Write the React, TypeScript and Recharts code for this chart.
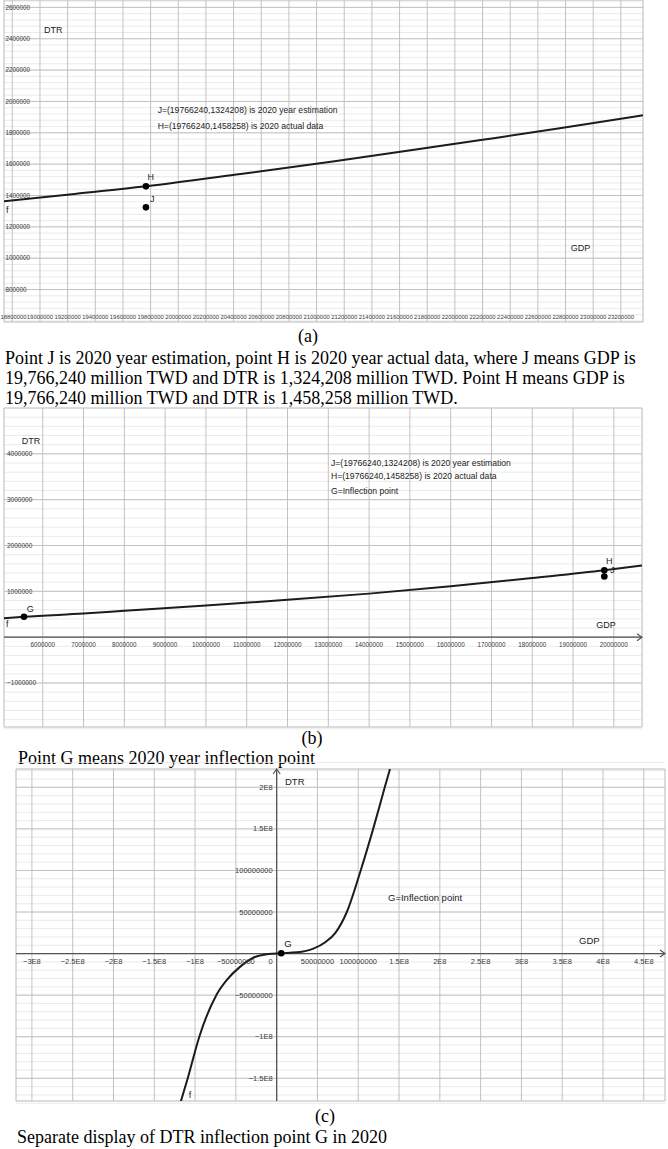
import {
    CartesianGrid,
    ComposedChart,
    Line,
    ReferenceDot,
    ReferenceLine,
    Scatter,
    XAxis,
    YAxis,
} from 'recharts';

// panel (a): close-up around the 2020 values
const aGdp = [18740000, 19250000, 19766240, 20450000, 21130000, 21680000, 22200000, 22770000, 23360000];
const aDtr = [1364000, 1410000, 1458258, 1537000, 1619000, 1688000, 1755000, 1830000, 1912000];
const aXTicks = [
    18800000, 19000000, 19200000, 19400000, 19600000, 19800000, 20000000, 20200000,
    20400000, 20600000, 20800000, 21000000, 21200000, 21400000, 21600000, 21800000,
    22000000, 22200000, 22400000, 22600000, 22800000, 23000000, 23200000,
];
const aYTicks = [800000, 1000000, 1200000, 1400000, 1600000, 1800000, 2000000, 2200000, 2400000, 2600000];

// panel (b): 5M .. 20M GDP
const bGdp = [5050000, 5540000, 7000000, 8000000, 10000000, 12000000, 14000000, 16000000, 18000000, 19766240, 20690000];
const bDtr = [410000, 444000, 515000, 574000, 690000, 814000, 950000, 1110000, 1290000, 1458258, 1563000];
const bXTicks = [
    6000000, 7000000, 8000000, 9000000, 10000000, 11000000, 12000000, 13000000,
    14000000, 15000000, 16000000, 17000000, 18000000, 19000000, 20000000,
];
const bYTicks = [-1000000, 1000000, 2000000, 3000000, 4000000];

// panel (c): whole cubic around the inflection point
const cGdp = [
    -117500000, -109000000, -94800000, -74000000, -61300000, -45000000, -28700000, -10000000, 5540000,
    25000000, 45000000, 60000000, 72000000, 86000000, 103000000, 118300000, 132500000, 138900000,
];
const cDtr = [
    -178000000, -150000000, -100000000, -50000000, -32000000, -16000000, -5000000, -500000, 444000,
    1500000, 6000000, 14000000, 25000000, 50000000, 100000000, 150000000, 200000000, 222000000,
];
const cXTicks = [
    -300000000, -250000000, -200000000, -150000000, -100000000, -50000000, 0, 50000000,
    100000000, 150000000, 200000000, 250000000, 300000000, 350000000, 400000000, 450000000,
];
const cXLabels = [
    '\u22123E8', '\u22122.5E8', '\u22122E8', '\u22121.5E8', '\u22121E8', '\u221250000000', '0', '50000000',
    '100000000', '1.5E8', '2E8', '2.5E8', '3E8', '3.5E8', '4E8', '4.5E8',
];
const cYTicks = [-150000000, -100000000, -50000000, 50000000, 100000000, 150000000, 200000000];
const cYLabels = ['\u22121.5E8', '\u22121E8', '\u221250000000', '50000000', '100000000', '1.5E8', '2E8'];

// marked points
const pointH = { x: 19766240, y: 1458258 };
const pointJ = { x: 19766240, y: 1324208 };
const pointG = { x: 5540000, y: 444000 };

const aXDomain: [number, number] = [18740000, 23360000];
const aYDomain: [number, number] = [593000, 2647000];
const bXDomain: [number, number] = [5050000, 20690000];
const bYDomain: [number, number] = [-1960000, 5000000];
const cXDomain: [number, number] = [-319500000, 476000000];
const cYDomain: [number, number] = [-177300000, 222000000];

const SANS = "Arial, 'Liberation Sans', Helvetica, sans-serif";
const SERIF = "'Times New Roman', 'Liberation Serif', serif";
const MAJOR = '#c2c2c2';
const MINOR = '#e5e5e5';
const AXIS = '#555';
const INK = '#1c1c1c';
const TICK = '#3a3a3a';

// minor grid values (grid only, not data)
function steps(from: number, to: number, step: number) {
    const out: number[] = [];
    for (let v = from; v <= to + 1; v += step) out.push(Math.round(v));
    return out;
}

type Note = {
    x: number;
    y: number;
    text: string;
    dx?: number;
    dy?: number;
    size?: number;
    anchor?: 'start' | 'middle' | 'end';
    fill?: string;
};

// text pinned to a data position
const note = (key: string, n: Note) => (
    <ReferenceDot
        key={key}
        x={n.x}
        y={n.y}
        ifOverflow="visible"
        shape={(p: any) => (
            <text
                x={p.cx + (n.dx ?? 0)}
                y={p.cy + (n.dy ?? 0)}
                fontSize={n.size ?? 9}
                textAnchor={n.anchor ?? 'start'}
                fill={n.fill ?? '#222'}
                fontFamily={SANS}
            >
                {n.text}
            </text>
        )}
    />
);

const arrow = (key: string, x: number, y: number, dir: 'right' | 'up') => (
    <ReferenceDot
        key={key}
        x={x}
        y={y}
        ifOverflow="visible"
        shape={(p: any) => (
            <path
                d={
                    dir === 'right'
                        ? `M${p.cx - 5},${p.cy - 3.5}L${p.cx},${p.cy}L${p.cx - 5},${p.cy + 3.5}`
                        : `M${p.cx - 3.5},${p.cy + 5}L${p.cx},${p.cy}L${p.cx + 3.5},${p.cy + 5}`
                }
                stroke={AXIS}
                strokeWidth={1.2}
                fill="none"
            />
        )}
    />
);

const dotShape = (p: any) => <circle cx={p.cx} cy={p.cy} r={3.3} fill="#000" />;

function axes(xd: [number, number], yd: [number, number], xMajor: number[], yMajor: number[], xMinor: number[], yMinor: number[]) {
    return [
        <XAxis key="xm" xAxisId="m" type="number" domain={xd} ticks={xMinor} interval={0} hide allowDataOverflow />,
        <YAxis key="ym" yAxisId="m" type="number" domain={yd} ticks={yMinor} interval={0} hide allowDataOverflow />,
        <XAxis key="x" type="number" dataKey="x" domain={xd} ticks={xMajor} interval={0} hide allowDataOverflow />,
        <YAxis key="y" type="number" dataKey="y" domain={yd} ticks={yMajor} interval={0} hide allowDataOverflow />,
        <CartesianGrid key="gm" xAxisId="m" yAxisId="m" stroke={MINOR} strokeWidth={0.8} />,
        <CartesianGrid key="gM" stroke={MAJOR} strokeWidth={1} />,
    ];
}

function PanelA() {
    const curve = aGdp.map((x, i) => ({ x, y: aDtr[i] }));
    return (
        <ComposedChart width={668} height={330} margin={{ top: 0, right: 25, bottom: 8, left: 4 }}>
            {axes(aXDomain, aYDomain, aXTicks, aYTicks, steps(18720000, 23360000, 40000), steps(600000, 2640000, 40000))}
            <Line data={curve} dataKey="y" type="monotone" stroke={INK} strokeWidth={2} dot={false} isAnimationActive={false} />
            <Scatter data={[pointH, pointJ]} dataKey="y" shape={dotShape} isAnimationActive={false} />
            {aYTicks.map((v) => note(`ay${v}`, { x: aXDomain[0], y: v, text: String(v), dx: 1.5, dy: 2.2, size: 6.3, fill: TICK }))}
            {aXTicks.map((v, i) =>
                note(`ax${v}`, {
                    x: v,
                    y: aYDomain[0],
                    text: String(v),
                    dx: i === 0 ? 1.2 : 0,
                    dy: -2.8,
                    size: 5.9,
                    anchor: 'middle',
                    fill: TICK,
                }),
            )}
            {note('dtr', { x: 19030000, y: 2437000, text: 'DTR', size: 9 })}
            {note('gdp', { x: 22837000, y: 1043000, text: 'GDP', size: 9 })}
            {note('t1', { x: 19851000, y: 1926000, text: 'J=(19766240,1324208) is 2020 year estimation', size: 8.6 })}
            {note('t2', { x: 19851000, y: 1821000, text: 'H=(19766240,1458258) is 2020 actual data', size: 8.6 })}
            {note('f', { x: 18754000, y: 1291000, text: 'f', size: 9 })}
            {note('H', { x: pointH.x, y: pointH.y, text: 'H', dx: 1.5, dy: -6, size: 9 })}
            {note('J', { x: pointJ.x, y: pointJ.y, text: 'J', dx: 4, dy: -5, size: 9 })}
        </ComposedChart>
    );
}

function PanelB() {
    const curve = bGdp.map((x, i) => ({ x, y: bDtr[i] }));
    return (
        <ComposedChart width={668} height={330} margin={{ top: 8, right: 26, bottom: 3, left: 4 }}>
            {axes(bXDomain, bYDomain, bXTicks, [-1000000, 0, 1000000, 2000000, 3000000, 4000000, 5000000], steps(5000000, 20800000, 200000), steps(-2000000, 5000000, 200000))}
            <ReferenceLine y={0} stroke={AXIS} strokeWidth={1.2} />
            {arrow('ar', bXDomain[1], 0, 'right')}
            <Line data={curve} dataKey="y" type="monotone" stroke={INK} strokeWidth={2} dot={false} isAnimationActive={false} />
            <Scatter data={[pointG, pointH, pointJ]} dataKey="y" shape={dotShape} isAnimationActive={false} />
            {bYTicks.map((v) => note(`by${v}`, { x: bXDomain[0], y: v, text: v < 0 ? `\u2212${-v}` : String(v), dx: 3, dy: 2.3, size: 6.5, fill: TICK }))}
            {bXTicks.map((v) => note(`bx${v}`, { x: v, y: 0, text: String(v), dy: 9.5, size: 6.3, anchor: 'middle', fill: TICK }))}
            {note('dtr', { x: 5484000, y: 4225000, text: 'DTR', size: 9 })}
            {note('gdp', { x: 19570000, y: 204000, text: 'GDP', size: 9 })}
            {note('t1', { x: 13066000, y: 3739000, text: 'J=(19766240,1324208) is 2020 year estimation', size: 8.6 })}
            {note('t2', { x: 13066000, y: 3447000, text: 'H=(19766240,1458258) is 2020 actual data', size: 8.6 })}
            {note('t3', { x: 13066000, y: 3119000, text: 'G=Inflection point', size: 8.6 })}
            {note('f', { x: 5099000, y: 226000, text: 'f', size: 9 })}
            {note('G', { x: pointG.x, y: pointG.y, text: 'G', dx: 2.7, dy: -5, size: 9 })}
            {note('H', { x: pointH.x, y: pointH.y, text: 'H', dx: 1.6, dy: -6.5, size: 9 })}
            {note('J', { x: pointJ.x, y: pointJ.y, text: 'J', dx: 6, dy: -3, size: 9 })}
        </ComposedChart>
    );
}

function PanelC() {
    const curve = cGdp.map((x, i) => ({ x, y: cDtr[i] }));
    return (
        <ComposedChart width={668} height={350} margin={{ top: 9, right: 3, bottom: 9, left: 16 }}>
            {axes(cXDomain, cYDomain, cXTicks, [-150000000, -100000000, -50000000, 0, 50000000, 100000000, 150000000, 200000000], steps(-320000000, 480000000, 10000000), steps(-180000000, 230000000, 10000000))}
            <ReferenceLine y={0} stroke={AXIS} strokeWidth={1.3} />
            <ReferenceLine x={0} stroke={AXIS} strokeWidth={1.3} />
            {arrow('ar', cXDomain[1], 0, 'right')}
            {arrow('au', 0, cYDomain[1], 'up')}
            <Line data={curve} dataKey="y" type="monotone" stroke={INK} strokeWidth={2} dot={false} isAnimationActive={false} />
            <Scatter data={[pointG]} dataKey="y" shape={dotShape} isAnimationActive={false} />
            {cXTicks.map((v, i) => note(`cx${v}`, { x: v, y: 0, text: cXLabels[i], dx: v === 0 ? -6 : 0, dy: 10, size: 7.5, anchor: 'middle', fill: TICK }))}
            {cYTicks.map((v, i) => note(`cy${v}`, { x: 0, y: v, text: cYLabels[i], dx: -4, dy: 2.6, size: 7.5, anchor: 'end', fill: TICK }))}
            {note('dtr', { x: 10200000, y: 202800000, text: 'DTR', size: 9.5 })}
            {note('gdp', { x: 370600000, y: 11100000, text: 'GDP', size: 9.5 })}
            {note('t', { x: 136500000, y: 63600000, text: 'G=Inflection point', size: 9.5 })}
            {note('f', { x: -107800000, y: -174000000, text: 'f', size: 9 })}
            {note('G', { x: pointG.x, y: pointG.y, text: 'G', dx: 3, dy: -6.5, size: 9.5 })}
        </ComposedChart>
    );
}

const caption: React.CSSProperties = {
    position: 'absolute',
    fontFamily: SERIF,
    fontSize: 18,
    lineHeight: '20px',
    color: '#000',
    whiteSpace: 'nowrap',
};

export default function App() {
    return (
        <div style={{ position: 'absolute', left: 0, top: 0, width: 668, height: 1149, background: '#fff', overflow: 'hidden' }}>
            <div style={{ position: 'absolute', left: 0, top: 0 }}>
                <PanelA />
            </div>
            <div style={{ ...caption, left: 308, top: 326, transform: 'translateX(-50%)' }}>(a)</div>
            <div style={{ ...caption, left: 5, top: 348 }}>
                Point J is 2020 year estimation, point H is 2020 year actual data, where J means GDP is
                <br />
                19,766,240 million TWD and DTR is 1,324,208 million TWD. Point H means GDP is
                <br />
                19,766,240 million TWD and DTR is 1,458,258 million TWD.
            </div>
            <div style={{ position: 'absolute', left: 0, top: 400 }}>
                <PanelB />
            </div>
            <div style={{ ...caption, left: 312, top: 728, transform: 'translateX(-50%)' }}>(b)</div>
            <div style={{ ...caption, left: 18, top: 748 }}>Point G means 2020 year inflection point</div>
            <div style={{ position: 'absolute', left: 0, top: 760 }}>
                <PanelC />
            </div>
            <div style={{ ...caption, left: 325, top: 1106, transform: 'translateX(-50%)' }}>(c)</div>
            <div style={{ ...caption, left: 17, top: 1127 }}>Separate display of DTR inflection point G in 2020</div>
        </div>
    );
}
